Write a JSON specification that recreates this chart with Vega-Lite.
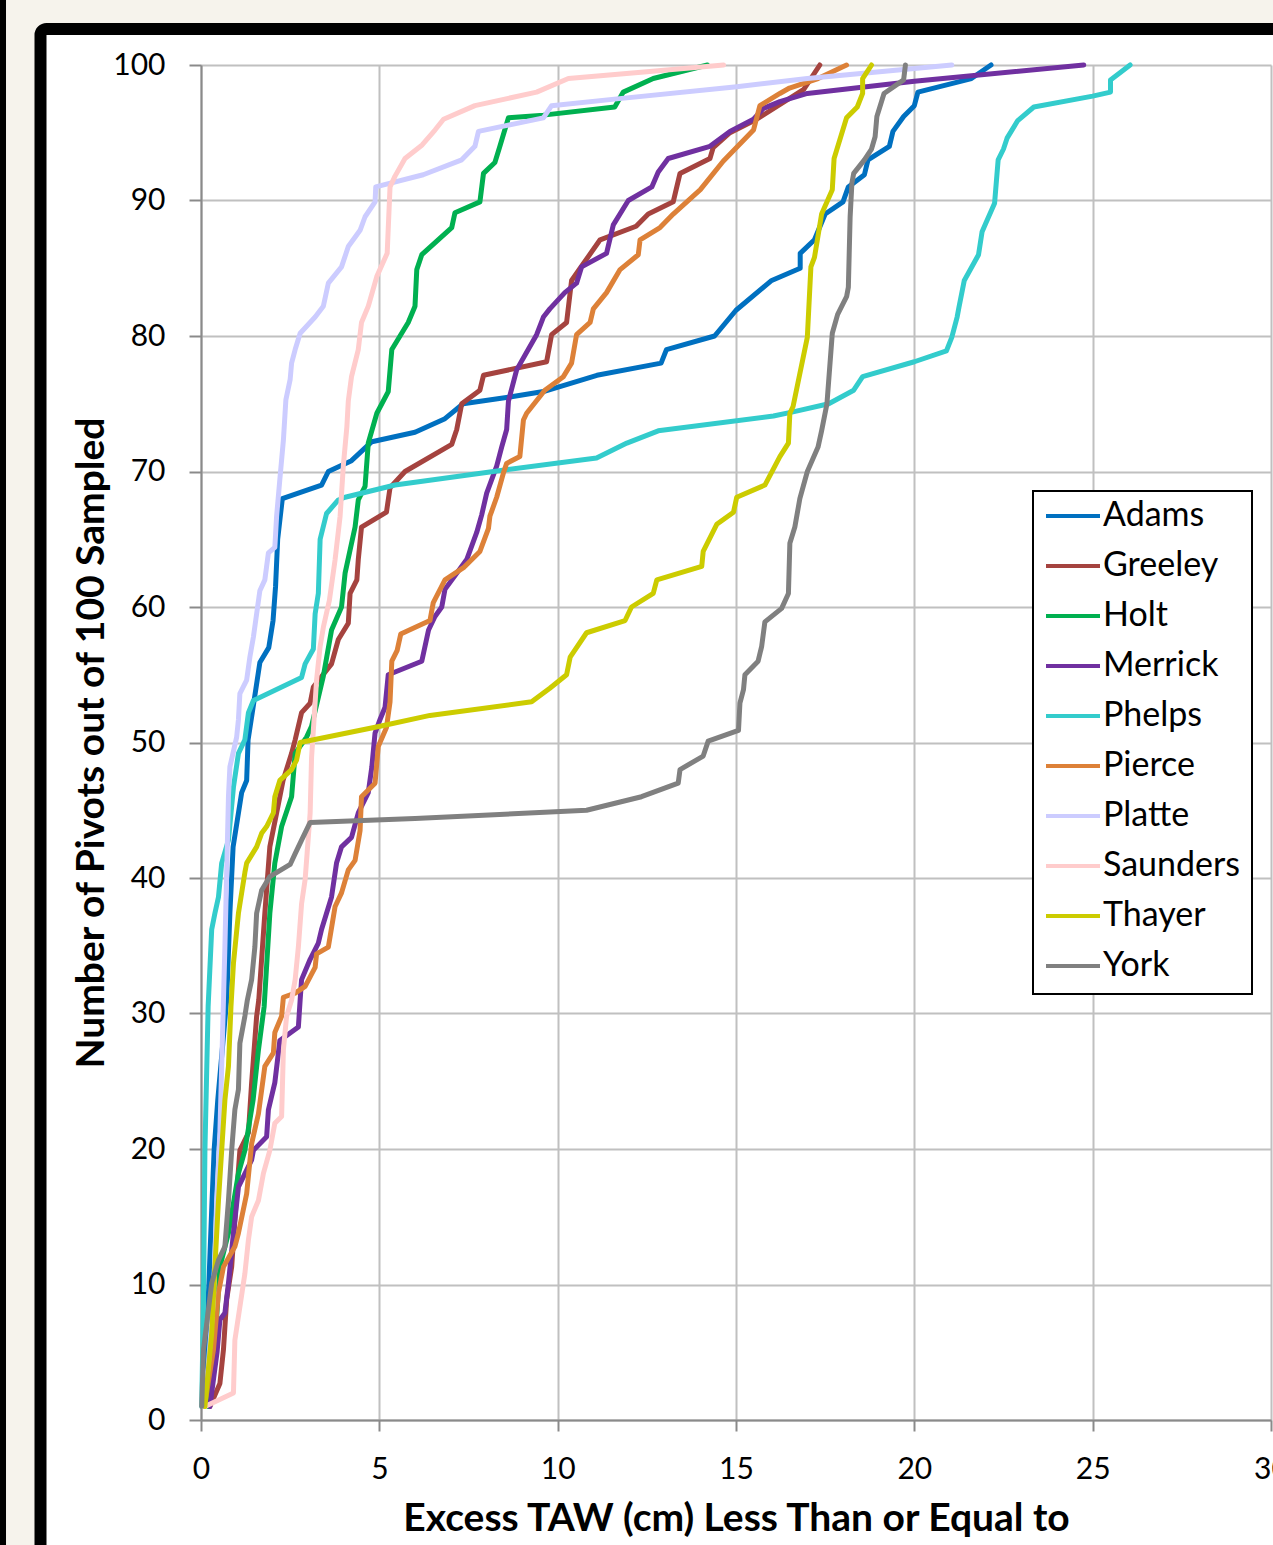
{
 "$schema": "https://vega.github.io/schema/vega-lite/v6.json",
 "width": 1070,
 "height": 1355,
 "autosize": {"type": "none"},
 "padding": {"left": 201, "top": 65, "right": 2, "bottom": 125},
 "background": "white",
 "config": {"view": {"stroke": null}, "font": "Lato"},
 "layer": [
  {
   "data": {"values": [
{"county":"Adams","taw":0.05,"n":1},{"county":"Adams","taw":0.16,"n":6.4},{"county":"Adams","taw":0.22,"n":10},{"county":"Adams","taw":0.31,"n":16.2},{"county":"Adams","taw":0.37,"n":20},{"county":"Adams","taw":0.47,"n":23.6},{"county":"Adams","taw":0.72,"n":31},{"county":"Adams","taw":0.81,"n":37.4},{"county":"Adams","taw":0.9,"n":42.3},{"county":"Adams","taw":1.14,"n":46.3},{"county":"Adams","taw":1.28,"n":47.2},{"county":"Adams","taw":1.32,"n":50.2},{"county":"Adams","taw":1.46,"n":52.6},{"county":"Adams","taw":1.65,"n":55.9},{"county":"Adams","taw":1.9,"n":57},{"county":"Adams","taw":2.02,"n":59},{"county":"Adams","taw":2.09,"n":61.5},{"county":"Adams","taw":2.15,"n":65},{"county":"Adams","taw":2.28,"n":68},{"county":"Adams","taw":3.38,"n":69},{"county":"Adams","taw":3.57,"n":70},{"county":"Adams","taw":4.22,"n":70.8},{"county":"Adams","taw":4.79,"n":72.2},{"county":"Adams","taw":6.0,"n":72.9},{"county":"Adams","taw":6.84,"n":73.9},{"county":"Adams","taw":7.35,"n":75},{"county":"Adams","taw":8.66,"n":75.5},{"county":"Adams","taw":9.6,"n":75.9},{"county":"Adams","taw":11.1,"n":77.1},{"county":"Adams","taw":12.9,"n":78},{"county":"Adams","taw":13.05,"n":79},{"county":"Adams","taw":14.4,"n":80},{"county":"Adams","taw":15.0,"n":81.9},{"county":"Adams","taw":16.0,"n":84.1},{"county":"Adams","taw":16.8,"n":85},{"county":"Adams","taw":16.8,"n":86.1},{"county":"Adams","taw":17.2,"n":87.1},{"county":"Adams","taw":17.5,"n":89},{"county":"Adams","taw":18.0,"n":89.9},{"county":"Adams","taw":18.15,"n":91},{"county":"Adams","taw":18.6,"n":91.9},{"county":"Adams","taw":18.7,"n":93},{"county":"Adams","taw":19.3,"n":94},{"county":"Adams","taw":19.4,"n":95.1},{"county":"Adams","taw":19.7,"n":96.2},{"county":"Adams","taw":20.0,"n":97},{"county":"Adams","taw":20.1,"n":98},{"county":"Adams","taw":21.6,"n":99},{"county":"Adams","taw":22.15,"n":100},
{"county":"Greeley","taw":0.25,"n":1},{"county":"Greeley","taw":0.53,"n":2.7},{"county":"Greeley","taw":0.63,"n":5.2},{"county":"Greeley","taw":0.72,"n":8.9},{"county":"Greeley","taw":0.86,"n":11.3},{"county":"Greeley","taw":1.0,"n":16.7},{"county":"Greeley","taw":1.09,"n":19.9},{"county":"Greeley","taw":1.33,"n":21.2},{"county":"Greeley","taw":1.42,"n":24.9},{"county":"Greeley","taw":1.56,"n":29.8},{"county":"Greeley","taw":1.62,"n":31},{"county":"Greeley","taw":1.79,"n":37.4},{"county":"Greeley","taw":1.93,"n":42.3},{"county":"Greeley","taw":2.12,"n":44.8},{"county":"Greeley","taw":2.3,"n":47.2},{"county":"Greeley","taw":2.54,"n":49.2},{"county":"Greeley","taw":2.64,"n":50.2},{"county":"Greeley","taw":2.82,"n":52.2},{"county":"Greeley","taw":3.06,"n":52.9},{"county":"Greeley","taw":3.15,"n":54.1},{"county":"Greeley","taw":3.66,"n":55.8},{"county":"Greeley","taw":3.85,"n":57.6},{"county":"Greeley","taw":4.13,"n":58.8},{"county":"Greeley","taw":4.18,"n":61},{"county":"Greeley","taw":4.37,"n":62},{"county":"Greeley","taw":4.41,"n":63.5},{"county":"Greeley","taw":4.5,"n":65.9},{"county":"Greeley","taw":5.2,"n":67},{"county":"Greeley","taw":5.3,"n":68.8},{"county":"Greeley","taw":5.72,"n":70},{"county":"Greeley","taw":7.03,"n":72},{"county":"Greeley","taw":7.17,"n":73.1},{"county":"Greeley","taw":7.31,"n":75},{"county":"Greeley","taw":7.82,"n":76},{"county":"Greeley","taw":7.92,"n":77.1},{"county":"Greeley","taw":9.69,"n":78.1},{"county":"Greeley","taw":9.83,"n":80.1},{"county":"Greeley","taw":10.25,"n":81},{"county":"Greeley","taw":10.39,"n":84.1},{"county":"Greeley","taw":10.63,"n":85},{"county":"Greeley","taw":11.19,"n":87.1},{"county":"Greeley","taw":12.2,"n":88.1},{"county":"Greeley","taw":12.54,"n":89},{"county":"Greeley","taw":13.24,"n":89.9},{"county":"Greeley","taw":13.43,"n":92},{"county":"Greeley","taw":14.27,"n":93.1},{"county":"Greeley","taw":14.36,"n":93.9},{"county":"Greeley","taw":14.83,"n":95},{"county":"Greeley","taw":15.58,"n":96},{"county":"Greeley","taw":16.9,"n":98.2},{"county":"Greeley","taw":17.35,"n":100},
{"county":"Holt","taw":0.2,"n":1},{"county":"Holt","taw":0.4,"n":6},{"county":"Holt","taw":0.53,"n":11.3},{"county":"Holt","taw":0.77,"n":13.8},{"county":"Holt","taw":1.05,"n":18.2},{"county":"Holt","taw":1.23,"n":19.9},{"county":"Holt","taw":1.46,"n":23.6},{"county":"Holt","taw":1.61,"n":27.3},{"county":"Holt","taw":1.77,"n":30.5},{"county":"Holt","taw":1.93,"n":37.4},{"county":"Holt","taw":2.07,"n":41.1},{"county":"Holt","taw":2.26,"n":43.8},{"county":"Holt","taw":2.54,"n":46},{"county":"Holt","taw":2.64,"n":49.2},{"county":"Holt","taw":2.96,"n":50.4},{"county":"Holt","taw":3.1,"n":51.2},{"county":"Holt","taw":3.43,"n":54.9},{"county":"Holt","taw":3.66,"n":58.3},{"county":"Holt","taw":3.94,"n":60},{"county":"Holt","taw":4.04,"n":62.5},{"county":"Holt","taw":4.18,"n":64.2},{"county":"Holt","taw":4.32,"n":65.9},{"county":"Holt","taw":4.41,"n":67.9},{"county":"Holt","taw":4.6,"n":68.9},{"county":"Holt","taw":4.69,"n":72.1},{"county":"Holt","taw":4.93,"n":74.3},{"county":"Holt","taw":5.25,"n":75.9},{"county":"Holt","taw":5.35,"n":79},{"county":"Holt","taw":5.81,"n":81},{"county":"Holt","taw":6.0,"n":82.2},{"county":"Holt","taw":6.05,"n":84.9},{"county":"Holt","taw":6.19,"n":86},{"county":"Holt","taw":7.03,"n":88},{"county":"Holt","taw":7.12,"n":89.1},{"county":"Holt","taw":7.82,"n":89.9},{"county":"Holt","taw":7.92,"n":92},{"county":"Holt","taw":8.24,"n":92.8},{"county":"Holt","taw":8.38,"n":94},{"county":"Holt","taw":8.62,"n":96.1},{"county":"Holt","taw":9.6,"n":96.3},{"county":"Holt","taw":11.6,"n":96.9},{"county":"Holt","taw":11.84,"n":98},{"county":"Holt","taw":12.68,"n":99},{"county":"Holt","taw":14.2,"n":100},
{"county":"Merrick","taw":0.25,"n":1},{"county":"Merrick","taw":0.45,"n":5},{"county":"Merrick","taw":0.53,"n":7.4},{"county":"Merrick","taw":0.67,"n":7.9},{"county":"Merrick","taw":0.77,"n":10.1},{"county":"Merrick","taw":0.91,"n":13.8},{"county":"Merrick","taw":1.05,"n":17.2},{"county":"Merrick","taw":1.42,"n":19.2},{"county":"Merrick","taw":1.47,"n":19.9},{"county":"Merrick","taw":1.84,"n":20.9},{"county":"Merrick","taw":1.89,"n":22.9},{"county":"Merrick","taw":2.07,"n":24.9},{"county":"Merrick","taw":2.21,"n":28},{"county":"Merrick","taw":2.73,"n":29},{"county":"Merrick","taw":2.78,"n":31},{"county":"Merrick","taw":2.82,"n":32.5},{"county":"Merrick","taw":3.06,"n":34},{"county":"Merrick","taw":3.29,"n":35.2},{"county":"Merrick","taw":3.38,"n":36.2},{"county":"Merrick","taw":3.66,"n":38.6},{"county":"Merrick","taw":3.8,"n":41.1},{"county":"Merrick","taw":3.94,"n":42.3},{"county":"Merrick","taw":4.22,"n":43},{"county":"Merrick","taw":4.41,"n":44.8},{"county":"Merrick","taw":4.69,"n":46.3},{"county":"Merrick","taw":4.79,"n":48.2},{"county":"Merrick","taw":4.88,"n":50.7},{"county":"Merrick","taw":5.02,"n":51.7},{"county":"Merrick","taw":5.16,"n":52.6},{"county":"Merrick","taw":5.25,"n":55},{"county":"Merrick","taw":6.19,"n":56},{"county":"Merrick","taw":6.38,"n":58.3},{"county":"Merrick","taw":6.56,"n":59.3},{"county":"Merrick","taw":6.75,"n":60},{"county":"Merrick","taw":6.84,"n":61.3},{"county":"Merrick","taw":7.45,"n":63.5},{"county":"Merrick","taw":7.73,"n":65.5},{"county":"Merrick","taw":7.87,"n":66.8},{"county":"Merrick","taw":8.01,"n":68.4},{"county":"Merrick","taw":8.29,"n":70.4},{"county":"Merrick","taw":8.43,"n":71.8},{"county":"Merrick","taw":8.57,"n":73.1},{"county":"Merrick","taw":8.62,"n":75.2},{"county":"Merrick","taw":8.85,"n":77.5},{"county":"Merrick","taw":9.13,"n":78.8},{"county":"Merrick","taw":9.41,"n":80.1},{"county":"Merrick","taw":9.6,"n":81.4},{"county":"Merrick","taw":9.78,"n":82},{"county":"Merrick","taw":10.2,"n":83.2},{"county":"Merrick","taw":10.53,"n":83.9},{"county":"Merrick","taw":10.67,"n":85.1},{"county":"Merrick","taw":11.37,"n":86.1},{"county":"Merrick","taw":11.56,"n":88.2},{"county":"Merrick","taw":11.98,"n":90},{"county":"Merrick","taw":12.64,"n":91},{"county":"Merrick","taw":12.82,"n":92.1},{"county":"Merrick","taw":13.1,"n":93.1},{"county":"Merrick","taw":14.27,"n":94},{"county":"Merrick","taw":14.83,"n":95.1},{"county":"Merrick","taw":15.49,"n":96},{"county":"Merrick","taw":15.77,"n":96.8},{"county":"Merrick","taw":16.23,"n":97.3},{"county":"Merrick","taw":17.0,"n":97.9},{"county":"Merrick","taw":20.0,"n":98.8},{"county":"Merrick","taw":24.75,"n":100},
{"county":"Phelps","taw":0.02,"n":1},{"county":"Phelps","taw":0.07,"n":8.9},{"county":"Phelps","taw":0.11,"n":19.9},{"county":"Phelps","taw":0.2,"n":30.5},{"county":"Phelps","taw":0.3,"n":36.2},{"county":"Phelps","taw":0.39,"n":37.4},{"county":"Phelps","taw":0.49,"n":38.6},{"county":"Phelps","taw":0.58,"n":41.1},{"county":"Phelps","taw":0.77,"n":42.8},{"county":"Phelps","taw":0.91,"n":46.7},{"county":"Phelps","taw":1.05,"n":49.2},{"county":"Phelps","taw":1.23,"n":50.2},{"county":"Phelps","taw":1.33,"n":52.2},{"county":"Phelps","taw":1.47,"n":53.1},{"county":"Phelps","taw":2.82,"n":54.8},{"county":"Phelps","taw":2.92,"n":55.8},{"county":"Phelps","taw":3.15,"n":56.9},{"county":"Phelps","taw":3.2,"n":59.5},{"county":"Phelps","taw":3.29,"n":61},{"county":"Phelps","taw":3.34,"n":65},{"county":"Phelps","taw":3.52,"n":66.9},{"county":"Phelps","taw":3.85,"n":67.9},{"county":"Phelps","taw":4.04,"n":68.1},{"county":"Phelps","taw":5.44,"n":69},{"county":"Phelps","taw":8.2,"n":70},{"county":"Phelps","taw":11.09,"n":71},{"county":"Phelps","taw":11.94,"n":72.1},{"county":"Phelps","taw":12.82,"n":73},{"county":"Phelps","taw":16.05,"n":74.1},{"county":"Phelps","taw":16.6,"n":74.4},{"county":"Phelps","taw":17.6,"n":75},{"county":"Phelps","taw":18.3,"n":76},{"county":"Phelps","taw":18.55,"n":77},{"county":"Phelps","taw":20.0,"n":78.1},{"county":"Phelps","taw":20.9,"n":78.9},{"county":"Phelps","taw":21.05,"n":79.9},{"county":"Phelps","taw":21.2,"n":81.4},{"county":"Phelps","taw":21.25,"n":82.1},{"county":"Phelps","taw":21.4,"n":84.1},{"county":"Phelps","taw":21.8,"n":86},{"county":"Phelps","taw":21.9,"n":87.7},{"county":"Phelps","taw":22.0,"n":88.3},{"county":"Phelps","taw":22.25,"n":89.8},{"county":"Phelps","taw":22.35,"n":93},{"county":"Phelps","taw":22.5,"n":93.8},{"county":"Phelps","taw":22.6,"n":94.6},{"county":"Phelps","taw":22.9,"n":95.9},{"county":"Phelps","taw":23.35,"n":96.9},{"county":"Phelps","taw":25.0,"n":97.7},{"county":"Phelps","taw":25.5,"n":98},{"county":"Phelps","taw":25.5,"n":98.9},{"county":"Phelps","taw":26.05,"n":100},
{"county":"Pierce","taw":0.1,"n":1},{"county":"Pierce","taw":0.2,"n":2.7},{"county":"Pierce","taw":0.35,"n":5.2},{"county":"Pierce","taw":0.49,"n":9.4},{"county":"Pierce","taw":0.63,"n":11.3},{"county":"Pierce","taw":0.95,"n":12.8},{"county":"Pierce","taw":1.05,"n":13.8},{"county":"Pierce","taw":1.28,"n":16.7},{"county":"Pierce","taw":1.42,"n":20.4},{"county":"Pierce","taw":1.61,"n":22.6},{"county":"Pierce","taw":1.79,"n":26.1},{"county":"Pierce","taw":2.03,"n":27.1},{"county":"Pierce","taw":2.07,"n":28.6},{"county":"Pierce","taw":2.26,"n":29.8},{"county":"Pierce","taw":2.31,"n":31.2},{"county":"Pierce","taw":2.64,"n":31.5},{"county":"Pierce","taw":2.92,"n":32},{"county":"Pierce","taw":3.2,"n":33.4},{"county":"Pierce","taw":3.24,"n":34.4},{"county":"Pierce","taw":3.57,"n":34.9},{"county":"Pierce","taw":3.76,"n":37.9},{"county":"Pierce","taw":3.94,"n":38.9},{"county":"Pierce","taw":4.13,"n":40.6},{"county":"Pierce","taw":4.32,"n":41.3},{"county":"Pierce","taw":4.46,"n":43.5},{"county":"Pierce","taw":4.5,"n":46},{"county":"Pierce","taw":4.88,"n":47},{"county":"Pierce","taw":4.97,"n":49.7},{"county":"Pierce","taw":5.2,"n":51.1},{"county":"Pierce","taw":5.3,"n":53},{"county":"Pierce","taw":5.35,"n":56},{"county":"Pierce","taw":5.5,"n":56.8},{"county":"Pierce","taw":5.6,"n":58},{"county":"Pierce","taw":6.42,"n":59},{"county":"Pierce","taw":6.51,"n":60.3},{"county":"Pierce","taw":6.84,"n":62},{"county":"Pierce","taw":7.36,"n":62.9},{"county":"Pierce","taw":7.82,"n":64.1},{"county":"Pierce","taw":8.06,"n":65.8},{"county":"Pierce","taw":8.1,"n":66.7},{"county":"Pierce","taw":8.29,"n":68.1},{"county":"Pierce","taw":8.48,"n":69.9},{"county":"Pierce","taw":8.57,"n":70.6},{"county":"Pierce","taw":8.94,"n":71.1},{"county":"Pierce","taw":9.04,"n":73.8},{"county":"Pierce","taw":9.13,"n":74.3},{"county":"Pierce","taw":9.64,"n":76},{"county":"Pierce","taw":10.16,"n":77},{"county":"Pierce","taw":10.39,"n":78},{"county":"Pierce","taw":10.53,"n":80.1},{"county":"Pierce","taw":10.91,"n":81},{"county":"Pierce","taw":11.0,"n":82},{"county":"Pierce","taw":11.37,"n":83.2},{"county":"Pierce","taw":11.75,"n":84.9},{"county":"Pierce","taw":12.26,"n":86},{"county":"Pierce","taw":12.31,"n":87.1},{"county":"Pierce","taw":12.87,"n":88},{"county":"Pierce","taw":13.24,"n":89},{"county":"Pierce","taw":14.0,"n":90.8},{"county":"Pierce","taw":14.64,"n":92.9},{"county":"Pierce","taw":15.49,"n":95.2},{"county":"Pierce","taw":15.67,"n":97},{"county":"Pierce","taw":16.23,"n":97.9},{"county":"Pierce","taw":16.5,"n":98.3},{"county":"Pierce","taw":17.3,"n":99},{"county":"Pierce","taw":18.1,"n":100},
{"county":"Platte","taw":0.05,"n":1},{"county":"Platte","taw":0.2,"n":3.9},{"county":"Platte","taw":0.35,"n":8.9},{"county":"Platte","taw":0.44,"n":16.2},{"county":"Platte","taw":0.53,"n":21.2},{"county":"Platte","taw":0.58,"n":26.1},{"county":"Platte","taw":0.63,"n":31},{"county":"Platte","taw":0.67,"n":34.9},{"county":"Platte","taw":0.72,"n":40.4},{"county":"Platte","taw":0.77,"n":46},{"county":"Platte","taw":0.81,"n":48.2},{"county":"Platte","taw":1.0,"n":50.4},{"county":"Platte","taw":1.05,"n":51.7},{"county":"Platte","taw":1.09,"n":53.6},{"county":"Platte","taw":1.28,"n":54.6},{"county":"Platte","taw":1.37,"n":56.3},{"county":"Platte","taw":1.47,"n":57.8},{"county":"Platte","taw":1.56,"n":59.5},{"county":"Platte","taw":1.65,"n":61.2},{"county":"Platte","taw":1.79,"n":62},{"county":"Platte","taw":1.89,"n":64},{"county":"Platte","taw":2.07,"n":64.4},{"county":"Platte","taw":2.12,"n":66.7},{"county":"Platte","taw":2.21,"n":69.4},{"county":"Platte","taw":2.31,"n":72.3},{"county":"Platte","taw":2.38,"n":75.3},{"county":"Platte","taw":2.5,"n":76.8},{"county":"Platte","taw":2.54,"n":78},{"county":"Platte","taw":2.64,"n":79},{"county":"Platte","taw":2.78,"n":80.2},{"county":"Platte","taw":3.2,"n":81.4},{"county":"Platte","taw":3.43,"n":82.2},{"county":"Platte","taw":3.57,"n":83.9},{"county":"Platte","taw":3.94,"n":85.1},{"county":"Platte","taw":4.13,"n":86.6},{"county":"Platte","taw":4.46,"n":87.8},{"county":"Platte","taw":4.6,"n":88.8},{"county":"Platte","taw":4.88,"n":89.9},{"county":"Platte","taw":4.9,"n":91},{"county":"Platte","taw":6.23,"n":91.9},{"county":"Platte","taw":7.31,"n":93},{"county":"Platte","taw":7.68,"n":94},{"county":"Platte","taw":7.78,"n":95.1},{"county":"Platte","taw":9.6,"n":96.1},{"county":"Platte","taw":9.83,"n":97},{"county":"Platte","taw":11.66,"n":97.5},{"county":"Platte","taw":15.02,"n":98.4},{"county":"Platte","taw":17.0,"n":99},{"county":"Platte","taw":21.05,"n":100},
{"county":"Saunders","taw":0.11,"n":1},{"county":"Saunders","taw":0.91,"n":2},{"county":"Saunders","taw":0.95,"n":5.9},{"county":"Saunders","taw":1.23,"n":10.8},{"county":"Saunders","taw":1.33,"n":13.3},{"county":"Saunders","taw":1.42,"n":15},{"county":"Saunders","taw":1.61,"n":16.2},{"county":"Saunders","taw":1.75,"n":18.2},{"county":"Saunders","taw":1.93,"n":19.9},{"county":"Saunders","taw":2.07,"n":21.9},{"county":"Saunders","taw":2.26,"n":22.4},{"county":"Saunders","taw":2.31,"n":27.3},{"county":"Saunders","taw":2.4,"n":29.8},{"county":"Saunders","taw":2.54,"n":31},{"county":"Saunders","taw":2.64,"n":32.5},{"county":"Saunders","taw":2.73,"n":34.9},{"county":"Saunders","taw":2.82,"n":38.1},{"county":"Saunders","taw":2.92,"n":39.9},{"county":"Saunders","taw":3.06,"n":44.8},{"county":"Saunders","taw":3.1,"n":48.9},{"county":"Saunders","taw":3.15,"n":50.9},{"county":"Saunders","taw":3.24,"n":54.6},{"county":"Saunders","taw":3.34,"n":57.1},{"county":"Saunders","taw":3.43,"n":58.5},{"county":"Saunders","taw":3.6,"n":60.5},{"county":"Saunders","taw":3.76,"n":63.5},{"county":"Saunders","taw":3.9,"n":66.7},{"county":"Saunders","taw":3.99,"n":70.4},{"county":"Saunders","taw":4.09,"n":73.3},{"county":"Saunders","taw":4.13,"n":75.2},{"county":"Saunders","taw":4.22,"n":77},{"county":"Saunders","taw":4.41,"n":79},{"county":"Saunders","taw":4.5,"n":81},{"county":"Saunders","taw":4.69,"n":82.2},{"county":"Saunders","taw":4.93,"n":84.4},{"county":"Saunders","taw":5.22,"n":86.1},{"county":"Saunders","taw":5.3,"n":91},{"county":"Saunders","taw":5.44,"n":91.8},{"county":"Saunders","taw":5.72,"n":93.1},{"county":"Saunders","taw":6.2,"n":94.1},{"county":"Saunders","taw":6.56,"n":95.2},{"county":"Saunders","taw":6.8,"n":96},{"county":"Saunders","taw":7.68,"n":97},{"county":"Saunders","taw":9.41,"n":98},{"county":"Saunders","taw":10.3,"n":99},{"county":"Saunders","taw":12.5,"n":99.5},{"county":"Saunders","taw":14.65,"n":100},
{"county":"Thayer","taw":0.11,"n":1},{"county":"Thayer","taw":0.3,"n":6.4},{"county":"Thayer","taw":0.39,"n":11.3},{"county":"Thayer","taw":0.49,"n":16.2},{"county":"Thayer","taw":0.58,"n":19.9},{"county":"Thayer","taw":0.67,"n":23.6},{"county":"Thayer","taw":0.77,"n":26.1},{"county":"Thayer","taw":0.84,"n":30.5},{"county":"Thayer","taw":0.91,"n":33.7},{"county":"Thayer","taw":1.05,"n":37.4},{"county":"Thayer","taw":1.23,"n":40.4},{"county":"Thayer","taw":1.28,"n":41.1},{"county":"Thayer","taw":1.56,"n":42.3},{"county":"Thayer","taw":1.7,"n":43.3},{"county":"Thayer","taw":1.84,"n":43.8},{"county":"Thayer","taw":2.03,"n":44.8},{"county":"Thayer","taw":2.07,"n":46},{"county":"Thayer","taw":2.21,"n":47.2},{"county":"Thayer","taw":2.54,"n":48},{"county":"Thayer","taw":2.68,"n":48.7},{"county":"Thayer","taw":2.78,"n":50},{"county":"Thayer","taw":5.02,"n":51.2},{"county":"Thayer","taw":6.42,"n":52},{"county":"Thayer","taw":9.27,"n":53},{"county":"Thayer","taw":9.78,"n":54},{"county":"Thayer","taw":10.25,"n":55},{"county":"Thayer","taw":10.35,"n":56.3},{"county":"Thayer","taw":10.81,"n":58.1},{"county":"Thayer","taw":11.89,"n":59},{"county":"Thayer","taw":12.07,"n":60},{"county":"Thayer","taw":12.68,"n":61},{"county":"Thayer","taw":12.78,"n":62},{"county":"Thayer","taw":14.04,"n":63},{"county":"Thayer","taw":14.08,"n":64.1},{"county":"Thayer","taw":14.46,"n":66.1},{"county":"Thayer","taw":14.93,"n":67},{"county":"Thayer","taw":15.02,"n":68.1},{"county":"Thayer","taw":15.81,"n":69},{"county":"Thayer","taw":16.23,"n":71.1},{"county":"Thayer","taw":16.47,"n":72.1},{"county":"Thayer","taw":16.51,"n":74.3},{"county":"Thayer","taw":16.6,"n":74.8},{"county":"Thayer","taw":17.0,"n":79.9},{"county":"Thayer","taw":17.1,"n":85.1},{"county":"Thayer","taw":17.2,"n":85.8},{"county":"Thayer","taw":17.4,"n":89},{"county":"Thayer","taw":17.7,"n":90.8},{"county":"Thayer","taw":17.75,"n":93.1},{"county":"Thayer","taw":18.1,"n":96.1},{"county":"Thayer","taw":18.4,"n":96.9},{"county":"Thayer","taw":18.55,"n":97.9},{"county":"Thayer","taw":18.55,"n":99},{"county":"Thayer","taw":18.8,"n":100},
{"county":"York","taw":0.02,"n":1},{"county":"York","taw":0.07,"n":5.2},{"county":"York","taw":0.3,"n":10.1},{"county":"York","taw":0.49,"n":11.8},{"county":"York","taw":0.67,"n":12.8},{"county":"York","taw":0.77,"n":16.2},{"county":"York","taw":0.86,"n":19.9},{"county":"York","taw":0.95,"n":22.9},{"county":"York","taw":1.05,"n":24.4},{"county":"York","taw":1.09,"n":27.8},{"county":"York","taw":1.23,"n":29.8},{"county":"York","taw":1.3,"n":31},{"county":"York","taw":1.42,"n":32.5},{"county":"York","taw":1.51,"n":34.9},{"county":"York","taw":1.56,"n":37.4},{"county":"York","taw":1.7,"n":39.1},{"county":"York","taw":1.93,"n":40.1},{"county":"York","taw":2.5,"n":41},{"county":"York","taw":2.64,"n":41.8},{"county":"York","taw":2.82,"n":42.8},{"county":"York","taw":3.06,"n":44.1},{"county":"York","taw":6.0,"n":44.4},{"county":"York","taw":10.81,"n":45},{"county":"York","taw":12.35,"n":46},{"county":"York","taw":13.38,"n":47},{"county":"York","taw":13.43,"n":48},{"county":"York","taw":14.08,"n":49},{"county":"York","taw":14.22,"n":50.1},{"county":"York","taw":15.07,"n":50.9},{"county":"York","taw":15.11,"n":52.9},{"county":"York","taw":15.21,"n":53.9},{"county":"York","taw":15.25,"n":55},{"county":"York","taw":15.62,"n":56},{"county":"York","taw":15.72,"n":57.1},{"county":"York","taw":15.81,"n":58.9},{"county":"York","taw":16.28,"n":59.9},{"county":"York","taw":16.47,"n":61},{"county":"York","taw":16.51,"n":64.7},{"county":"York","taw":16.65,"n":65.9},{"county":"York","taw":16.79,"n":68},{"county":"York","taw":17.0,"n":70},{"county":"York","taw":17.3,"n":71.8},{"county":"York","taw":17.4,"n":73},{"county":"York","taw":17.55,"n":75},{"county":"York","taw":17.7,"n":80.2},{"county":"York","taw":17.85,"n":81.6},{"county":"York","taw":18.1,"n":82.9},{"county":"York","taw":18.15,"n":83.6},{"county":"York","taw":18.2,"n":88.8},{"county":"York","taw":18.25,"n":91.3},{"county":"York","taw":18.3,"n":92},{"county":"York","taw":18.6,"n":93},{"county":"York","taw":18.8,"n":93.8},{"county":"York","taw":18.9,"n":94.7},{"county":"York","taw":18.95,"n":96.2},{"county":"York","taw":19.15,"n":97.9},{"county":"York","taw":19.7,"n":98.9},{"county":"York","taw":19.75,"n":100}
   ]},
   "mark": {"type": "line", "strokeWidth": 5, "strokeCap": "round", "strokeJoin": "round"},
   "encoding": {
    "x": {
     "field": "taw", "type": "quantitative",
     "scale": {"domain": [0, 30], "nice": false},
     "title": "Excess TAW (cm) Less Than or Equal to",
     "axis": {
      "values": [0, 5, 10, 15, 20, 25, 30],
      "grid": true, "gridColor": "#c0c0c0", "gridWidth": 2,
      "domain": true, "domainColor": "#8a8a8a", "domainWidth": 2,
      "tickColor": "#8a8a8a", "tickWidth": 2, "tickSize": 11,
      "labelFont": "Lato", "labelFontSize": 30, "labelColor": "black", "labelPadding": 23,
      "labelFlush": false, "labelOverlap": false,
      "titleFont": "Lato", "titleFontSize": 39, "titleFontWeight": "bold", "titleColor": "black", "titlePadding": 15
     }
    },
    "y": {
     "field": "n", "type": "quantitative",
     "scale": {"domain": [0, 100], "nice": false},
     "title": "Number of Pivots out of 100 Sampled",
     "axis": {
      "values": [0, 10, 20, 30, 40, 50, 60, 70, 80, 90, 100],
      "grid": true, "gridColor": "#c0c0c0", "gridWidth": 2,
      "domain": true, "domainColor": "#8a8a8a", "domainWidth": 2,
      "tickColor": "#8a8a8a", "tickWidth": 2, "tickSize": 12,
      "labelFont": "Lato", "labelFontSize": 30, "labelColor": "black", "labelPadding": 24,
      "labelFlush": false, "labelOverlap": false,
      "titleFont": "Lato", "titleFontSize": 39, "titleFontWeight": "bold", "titleColor": "black", "titlePadding": 1
     }
    },
    "color": {
     "field": "county", "type": "nominal",
     "scale": {
      "domain": ["Adams", "Greeley", "Holt", "Merrick", "Phelps", "Pierce", "Platte", "Saunders", "Thayer", "York"],
      "range": ["#0070c0", "#a5433f", "#00b050", "#7030a0", "#33cccc", "#dd8138", "#ccccff", "#ffcccc", "#cccc00", "#808080"]
     },
     "legend": {
      "title": null, "orient": "none", "legendX": 832, "legendY": 426,
      "symbolType": "stroke", "symbolSize": 2916, "symbolStrokeWidth": 4,
      "labelFont": "Lato", "labelFontSize": 34, "labelColor": "black", "labelOffset": 1,
      "clipHeight": 28, "rowPadding": 16,
      "fillColor": "white", "strokeColor": "black", "padding": 11,
      "zindex": 1,
      "encode": {"legend": {"update": {"strokeWidth": {"value": 2}}}}
     }
    },
    "order": {"field": "n", "type": "quantitative"}
   }
  },
  {
   "data": {"values": [{}]},
   "mark": {"type": "rect", "fill": "#f6f3ec"},
   "encoding": {
    "x": {"datum": -6, "type": "quantitative", "title": "Excess TAW (cm) Less Than or Equal to"},
    "x2": {"datum": -4.486},
    "y": {"datum": -12, "type": "quantitative", "title": "Number of Pivots out of 100 Sampled"},
    "y2": {"datum": 110}
   }
  },
  {
   "data": {"values": [{}]},
   "mark": {"type": "rect", "fill": "#f6f3ec"},
   "encoding": {
    "x": {"datum": -6, "type": "quantitative", "title": "Excess TAW (cm) Less Than or Equal to"},
    "x2": {"datum": 31},
    "y": {"datum": 102.66, "type": "quantitative", "title": "Number of Pivots out of 100 Sampled"},
    "y2": {"datum": 106}
   }
  },
  {
   "data": {"values": [{}]},
   "mark": {"type": "rect", "fill": "black"},
   "encoding": {
    "x": {"datum": -6, "type": "quantitative", "title": "Excess TAW (cm) Less Than or Equal to"},
    "x2": {"datum": -5.467},
    "y": {"datum": -12, "type": "quantitative", "title": "Number of Pivots out of 100 Sampled"},
    "y2": {"datum": 110}
   }
  },
  {
   "data": {"values": [{}]},
   "mark": {"type": "rect", "fill": "transparent", "stroke": "black", "strokeWidth": 12, "cornerRadius": 6},
   "encoding": {
    "x": {"datum": -4.5, "type": "quantitative", "title": "Excess TAW (cm) Less Than or Equal to"},
    "x2": {"datum": 31},
    "y": {"datum": 102.66, "type": "quantitative", "title": "Number of Pivots out of 100 Sampled"},
    "y2": {"datum": -12}
   }
  }
 ]
}
